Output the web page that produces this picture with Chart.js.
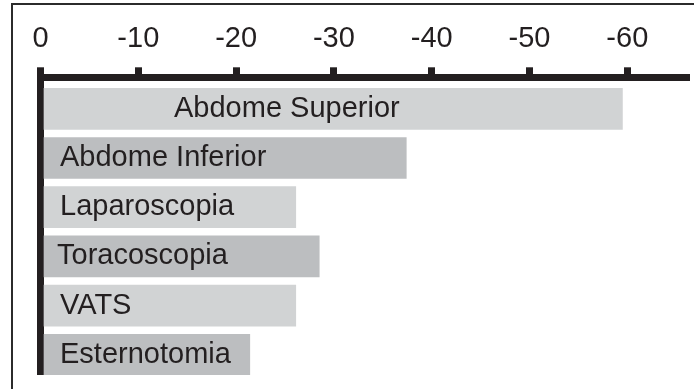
<!DOCTYPE html>
<html lang="en">
<head>
    <meta charset="UTF-8">
    <title>Abdome / Toracoscopia chart</title>
    <script src="https://cdn.jsdelivr.net/npm/chart.js"></script>
    <style>
        html, body { margin: 0; padding: 0; background: #fff; }
        body { width: 694px; height: 389px; overflow: hidden; position: relative; }
        .frame {
            position: absolute; left: 11px; top: 3px; width: 800px; height: 500px;
            border-top: 2px solid #2b2b2b; border-left: 2px solid #2b2b2b;
        }
        #wrap { position: absolute; left: 0; top: 0; width: 694px; height: 389px; }
    </style>
</head>
<body>
    <div class="frame"></div>
    <div id="wrap"><canvas id="chart"></canvas></div>

    <script>
        // data
        const categories = ['Abdome Superior', 'Abdome Inferior', 'Laparoscopia', 'Toracoscopia', 'VATS', 'Esternotomia'];
        const values = [-59.5, -37.4, -26.1, -28.5, -26.1, -21.4];
        const tickValues = [0, -10, -20, -30, -40, -50, -60];

        const ink = '#231f20';
        const light = '#d1d3d4';
        const dark = '#bcbec0';
        const fontFamily = '"Liberation Sans", Arial, sans-serif';

        // labels written inside the bars
        const barLabels = {
            id: 'barLabels',
            afterDatasetsDraw(chart, args, opts) {
                const ctx = chart.ctx;
                const meta = chart.getDatasetMeta(0);
                ctx.save();
                ctx.font = '29px ' + fontFamily;
                ctx.fillStyle = ink;
                ctx.textBaseline = 'alphabetic';
                ctx.textAlign = 'left';
                meta.data.forEach((bar, i) => {
                    ctx.fillText(categories[i], bar.base + opts.indent[i], bar.y + 8);
                });
                ctx.restore();
            }
        };

        new Chart(document.getElementById('chart'), {
            type: 'bar',
            data: {
                datasets: [{
                    data: values.map((v, i) => ({ x: v, y: i })),
                    backgroundColor: values.map((v, i) => i % 2 ? dark : light),
                    borderWidth: 0,
                    barThickness: 41
                }]
            },
            options: {
                indexAxis: 'y',
                responsive: true,
                maintainAspectRatio: false,
                animation: false,
                layout: { padding: { left: 40.5, right: 8, top: 11.5, bottom: 14 } },
                plugins: {
                    legend: { display: false },
                    tooltip: { enabled: false },
                    barLabels: { indent: [130, 16, 16, 13, 16, 16] }
                },
                scales: {
                    x: {
                        type: 'linear',
                        position: 'top',
                        reverse: true,
                        min: -66,
                        max: 0,
                        z: 1,
                        afterBuildTicks: scale => { scale.ticks = tickValues.map(v => ({ value: v })); },
                        ticks: {
                            color: ink,
                            padding: 10.5,
                            font: { family: fontFamily, size: 29 },
                            callback: v => String(v)
                        },
                        grid: {
                            drawOnChartArea: false,
                            color: ink,
                            lineWidth: 7,
                            tickLength: 10,
                            tickWidth: 7,
                            tickColor: ink
                        },
                        border: { display: true, width: 7, color: ink }
                    },
                    y: {
                        type: 'linear',
                        reverse: true,
                        offset: false,
                        min: -0.641,
                        max: 5.412,
                        z: 1,
                        ticks: { display: false },
                        grid: { drawOnChartArea: false, drawTicks: false, lineWidth: 0 },
                        border: { display: true, width: 7, color: ink }
                    }
                }
            },
            plugins: [barLabels]
        });
    </script>
</body>
</html>
